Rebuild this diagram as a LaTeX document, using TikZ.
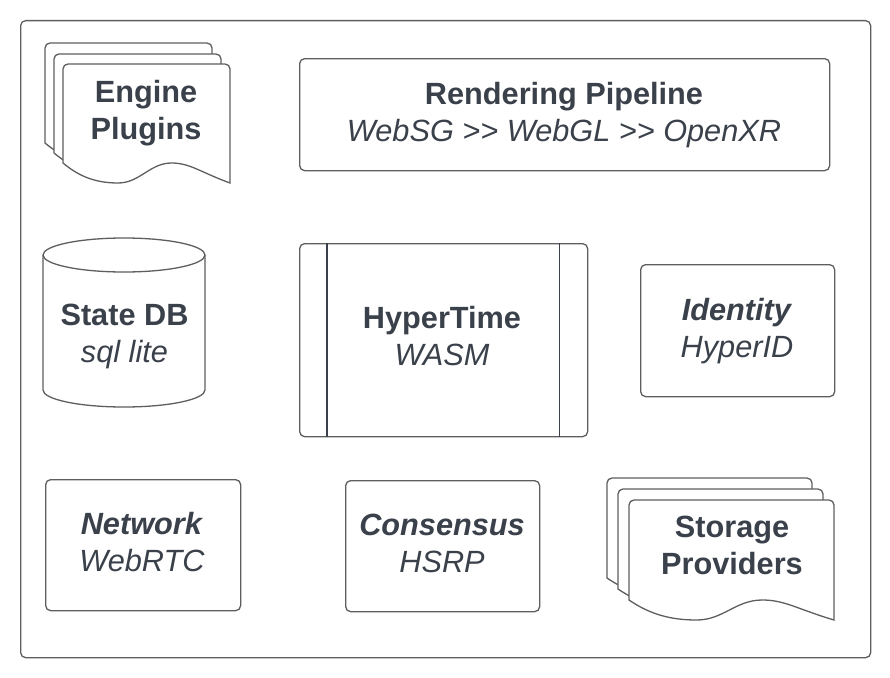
\documentclass[tikz,border=0pt]{standalone}
\usepackage{fontspec}
\setmainfont{Liberation Sans}
\definecolor{txtc}{HTML}{3A414A}
\definecolor{lnc}{HTML}{5E5E5E}
\definecolor{dkc}{HTML}{3A414A}
\newcommand\mydoc[4]{% x, ytop, width, left height
  \draw[docshape] (#1,#2+#4) [rounded corners=5pt]-- (#1,#2) -- (#1+#3,#2) [sharp corners]-- (#1+#3,#2+#4+20)
    .. controls (#1+0.82*#3,#2+#4+9) and (#1+0.76*#3,#2+#4) .. (#1+0.65*#3,#2+#4)
    .. controls (#1+0.52*#3,#2+#4) and (#1+0.46*#3,#2+#4+20) .. (#1+0.33*#3,#2+#4+20)
    .. controls (#1+0.2*#3,#2+#4+20) and (#1+0.1*#3,#2+#4+14) .. (#1,#2+#4) -- cycle;}
\begin{document}
\begin{tikzpicture}[x=1pt,y=-1pt,
  box/.style={draw=lnc, line width=1.3pt, rounded corners=5pt, fill=white, inner sep=0pt, anchor=north west},
  docshape/.style={draw=lnc, line width=1.3pt, fill=white},
  lbl/.style={text=txtc, align=center, font=\fontsize{30.7}{37}\selectfont, inner sep=0pt, anchor=base},
]
\fill[white] (0,0) rectangle (890,677);
\useasboundingbox (0,0) rectangle (890,677);
\node[box, minimum width=850pt, minimum height=637pt] (frame) at (20,20) {};

% Engine plugins documents
\mydoc{45}{43}{167}{100}
\mydoc{54}{54}{167}{99}
\mydoc{63}{64}{167}{99}
\node[lbl] (ep) at (146,139) {\textbf{Engine}\\\textbf{Plugins}};

% Rendering pipeline
\node[box, minimum width=530pt, minimum height=112pt] (rp) at (299,58) {};
\node[lbl] (rpt) at (564,141) {\textbf{Rendering Pipeline}\\\textit{WebSG {>}{>} WebGL {>}{>} OpenXR}};

% State DB cylinder
\draw[docshape] (43,255) -- (43,390) arc[start angle=180, end angle=0, x radius=81, y radius=17] -- (205,255);
\draw[docshape] (124,255) ellipse[x radius=81, y radius=17];
\node[lbl] (sdb) at (124.5,362) {\textbf{State DB}\\\textit{sql lite}};

% HyperTime
\node[box, minimum width=288pt, minimum height=193pt] (ht) at (299,243) {};
\draw[draw=dkc, line width=1.3pt] ([xshift=28pt]ht.north west) -- ([xshift=28pt]ht.south west);
\draw[draw=dkc, line width=1.3pt] ([xshift=-29pt]ht.north east) -- ([xshift=-29pt]ht.south east);
\node[lbl] (htt) at (442,365) {\textbf{HyperTime}\\\textit{WASM}};

% Identity
\node[box, minimum width=194pt, minimum height=132pt] (id) at (640,264) {};
\node[lbl] (idt) at (737,357) {\textbf{\textit{Identity}}\\\textit{HyperID}};

% Network
\node[box, minimum width=195pt, minimum height=131pt] (nw) at (45,479) {};
\node[lbl] (nwt) at (142,571) {\textbf{\textit{Network}}\\\textit{WebRTC}};

% Consensus
\node[box, minimum width=194pt, minimum height=131pt] (cs) at (345,480) {};
\node[lbl] (cst) at (442,572) {\textbf{\textit{Consensus}}\\\textit{HSRP}};

% Storage providers documents
\mydoc{607}{478}{205}{100}
\mydoc{618}{489}{205}{100}
\mydoc{629}{500}{205}{100}
\node[lbl] (spt) at (732,574) {\textbf{Storage}\\\textbf{Providers}};
\end{tikzpicture}
\end{document}
